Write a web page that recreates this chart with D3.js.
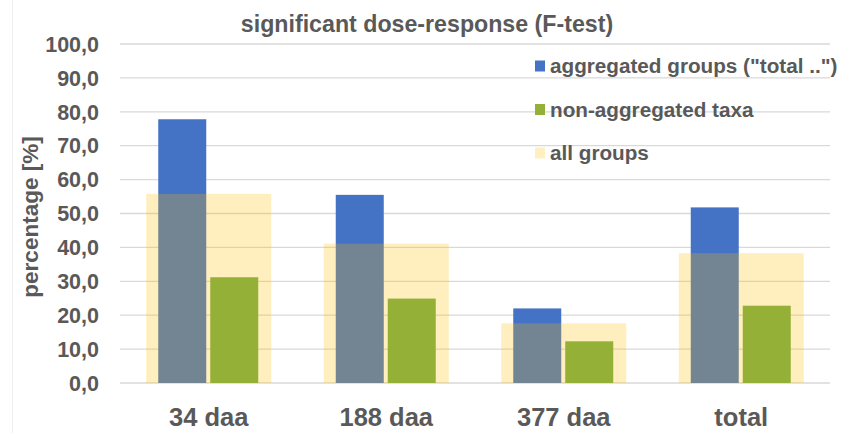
<!DOCTYPE html>
<html><head><meta charset="utf-8">
<script src="https://cdn.jsdelivr.net/npm/d3@7"></script>
<style>body{margin:0;background:#fff}svg{display:block}text{font-family:"Liberation Sans",Arial,sans-serif;font-weight:bold;fill:#595959}</style>
</head><body><svg id="c" width="842" height="433"></svg>
<script>
const categories = ["34 daa", "188 daa", "377 daa", "total"];
const aggregated = [77.8, 55.5, 22.0, 51.8];
const nonAggregated = [31.2, 24.9, 12.3, 22.8];
const allGroups = [55.8, 41.1, 17.6, 38.3];
const yTicks = [0,10,20,30,40,50,60,70,80,90,100];
const seriesNames = ['aggregated groups ("total ..")', "non-aggregated taxa", "all groups"];

const svg = d3.select("#c");
const m = {l:120, r:830, t:44, b:383};
const x = d3.scaleBand().domain(categories).range([m.l, m.r]).padding(0);
const y = d3.scaleLinear().domain([0,100]).range([m.b, m.t]);

svg.append("line").attr("x1",12.5).attr("x2",12.5).attr("y1",0).attr("y2",433).attr("stroke","#eeeeee");

// gridlines
svg.append("g").selectAll("line").data(yTicks).join("line")
  .attr("x1", m.l).attr("x2", m.r)
  .attr("y1", d=>y(d)).attr("y2", d=>y(d))
  .attr("stroke", "#d9d9d9").attr("stroke-width", 1.3);

// y axis labels
const fmt = d => d3.format(".1f")(d).replace(".", ",");
svg.append("g").selectAll("text").data(yTicks).join("text")
  .attr("x", 99).attr("y", d=>y(d)).attr("dy","0.36em")
  .attr("text-anchor","end").attr("font-size", 21.5).text(fmt);

const bw = x.bandwidth();
const cx = c => x(c) + bw/2;
// blue bars
svg.append("g").selectAll("rect").data(categories).join("rect")
  .attr("x", c=>cx(c)-50.5).attr("width", 48)
  .attr("y", (c,i)=>y(aggregated[i])).attr("height",(c,i)=>y(0)-y(aggregated[i]))
  .attr("fill","#4472c4");
// yellow (all groups) semi transparent
svg.append("g").selectAll("rect").data(categories).join("rect")
  .attr("x", c=>cx(c)-62.5).attr("width", 125)
  .attr("y", (c,i)=>y(allGroups[i])).attr("height",(c,i)=>y(0)-y(allGroups[i]))
  .attr("fill","#ffc000").attr("fill-opacity",0.25);
// green bars
svg.append("g").selectAll("rect").data(categories).join("rect")
  .attr("x", c=>cx(c)+1.5).attr("width", 48)
  .attr("y", (c,i)=>y(nonAggregated[i])).attr("height",(c,i)=>y(0)-y(nonAggregated[i]))
  .attr("fill","#95b036");

// x labels
svg.append("g").selectAll("text").data(categories).join("text")
  .attr("x", c=>cx(c)).attr("y", 426).attr("text-anchor","middle")
  .attr("font-size", 25.5).text(d=>d);

// title
svg.append("text").attr("x", 427).attr("y", 32).attr("text-anchor","middle")
  .attr("font-size", 23.2).text("significant dose-response (F-test)");

// y title
svg.append("text").attr("transform","translate(38,217) rotate(-90)")
  .attr("text-anchor","middle").attr("font-size", 22.5).text("percentage [%]");

// legend
const legColors = ["#4472c4","#95b036","#fff0c2"];
const lg = svg.append("g").selectAll("g").data(seriesNames).join("g")
  .attr("transform",(d,i)=>`translate(535,${66+i*43.5})`);
lg.append("rect").attr("x",0).attr("y",-5.5).attr("width",10).attr("height",11).attr("fill",(d,i)=>legColors[i]);
lg.append("text").attr("x",15).attr("y",0).attr("dy","0.36em").attr("font-size",20.7).text(d=>d);
</script></body></html>
